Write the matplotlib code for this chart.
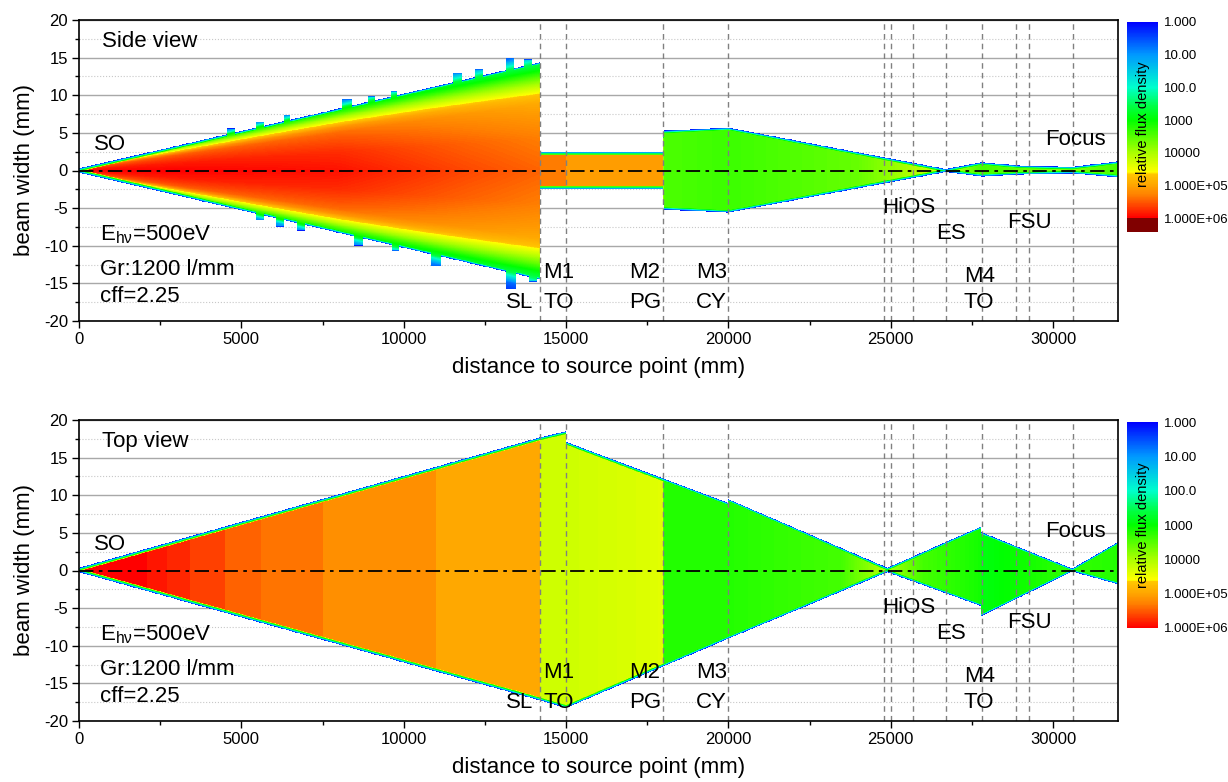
import numpy as np
import matplotlib
matplotlib.use('Agg')
import matplotlib.pyplot as plt
from matplotlib.colors import LinearSegmentedColormap, Normalize
from matplotlib.cm import ScalarMappable
from matplotlib.ticker import MultipleLocator

plt.rcParams['font.family'] = ['Liberation Sans', 'DejaVu Sans']
plt.rcParams['mathtext.fontset'] = 'custom'
plt.rcParams['mathtext.rm'] = 'Liberation Sans'
plt.rcParams['mathtext.it'] = 'Liberation Sans:italic'
plt.rcParams['axes.unicode_minus'] = False

#-------------------------------------------------------------------------------
# optical elements (distance to source, mm) -> dashed markers
elem_x = [14200, 15000, 18000, 20000, 24800, 25000, 25700, 26700, 27800, 28850, 29250, 30600]

cbar_labels = ['1.000', '10.00', '100.0', '1000', '10000', '1.000E+05', '1.000E+06']

# side view : beam envelope (mm)
side_x   = [0, 14200, 14201, 18000, 18001, 20000, 26700, 27800, 29000, 30600, 32000]
side_top = [0.3, 14.4, 2.5, 2.5, 5.3, 5.7, 0.2, 1.1, 0.65, 0.5, 1.2]
side_bot = [-0.3, -14.5, -2.5, -2.5, -5.2, -5.6, -0.2, -0.8, -0.55, -0.4, -0.9]

# side view : log10 of relative flux density on the axis
side_cx = [0, 3000, 8000, 12000, 14200, 14201, 15000, 15001, 18000, 18001, 20000, 24000, 26700, 27800, 30600, 32000]
side_cv = [6.0, 6.0, 5.9, 5.6, 5.45, 5.3, 5.3, 5.05, 5.05, 3.45, 3.35, 3.6, 4.3, 3.4, 3.8, 3.4]

# side view : where the broad transverse profile applies (before the slit)
side_sx = [0, 14200, 14201, 32000]
side_ss = [1, 1, 0, 0]

# side view : ray-trace "bumps" on the cone edge (x0, x1, edge mm)
side_bump_up = [(4550, 4800, 5.6), (5450, 5700, 6.5), (6300, 6500, 7.4), (8100, 8400, 9.5),
                (8900, 9100, 9.9), (9600, 9800, 10.6), (11500, 11800, 13.0),
                (12200, 12450, 13.5), (13150, 13400, 15.0), (13700, 13950, 14.8)]
side_bump_lo = [(5450, 5700, -6.6), (6050, 6300, -7.5), (6700, 6950, -8.0), (8450, 8750, -10.0),
                (9650, 9850, -10.7), (10850, 11150, -12.7), (13150, 13450, -15.8),
                (13850, 14100, -14.8)]

# top view : beam envelope (mm)
top_x   = [0, 14200, 15000, 15001, 20000, 20001, 24900, 27800, 27801, 30600, 32000]
top_up  = [0.3, 17.6, 18.4, 17.0, 8.9, 9.4, 0.3, 5.8, 5.0, 0.2, 3.7]
top_lo  = [-0.3, -17.3, -18.3, -18.3, -9.1, -9.1, -0.3, -4.8, -6.1, -0.2, -1.9]

# top view : log10 of relative flux density
top_cx = [0, 2100, 2101, 2700, 2701, 3400, 3401, 4500, 4501, 5600, 5601, 7500, 7501, 11000, 11001,
          14200, 14201, 15000, 17500, 18000, 18001, 20000, 23500, 24900, 24901, 26000, 27800,
          27801, 30600, 32000]
top_cv = [6.0, 6.0, 5.86, 5.86, 5.77, 5.77, 5.63, 5.63, 5.44, 5.44, 5.35, 5.35, 5.17, 5.17, 4.95,
          4.95, 4.25, 4.25, 4.35, 4.4, 3.2, 3.2, 3.4, 4.1, 4.0, 3.4, 3.1,
          2.9, 3.3, 3.2]
top_sx = [0, 32000]
top_ss = [0, 0]

# transverse profile (drop of log density vs normalised offset) and edge rim
prof_u    = [0, 0.3, 0.5, 0.62, 0.7, 0.78, 0.86, 0.93, 1.0, 1.1, 1.3]
prof_drop = [0, 0.15, 0.35, 0.5, 0.75, 1.3, 1.9, 2.5, 3.0, 4.8, 5.8]
rim_d = [0, 0.12, 0.25, 0.4, 0.6]
rim_v = [0.1, 1.2, 2.6, 3.8, 9.0]

#-------------------------------------------------------------------------------
cmap = LinearSegmentedColormap.from_list('flux', [
    (0.0, '#0000ff'), (1/6, '#0099ff'), (2/6, '#00ffcc'), (2.6/6, '#00ff40'),
    (0.5, '#00ff00'), (4/6, '#aaff00'), (4.6/6, '#ffff00'), (4.65/6, '#ffc800'),
    (5/6, '#ffa500'), (5.3/6, '#ff8000'), (1.0, '#ff0000')])
norm = Normalize(0, 6)

xs = np.linspace(0, 32000, 2600)
ys = np.linspace(-20, 20, 1000)


def beam_field(ex, etop, ebot, cx, cv, sx, ss, bumps_up=(), bumps_lo=()):
	Y = ys[:, None]
	top = np.interp(xs, ex, etop)
	bot = np.interp(xs, ex, ebot)
	otop = top.copy()
	obot = bot.copy()
	for x0, x1, h in bumps_up:
		sel = (xs >= x0) & (xs <= x1)
		otop[sel] = np.maximum(otop[sel], h)
	for x0, x1, h in bumps_lo:
		sel = (xs >= x0) & (xs <= x1)
		obot[sel] = np.minimum(obot[sel], h)
	mid = (top + bot) / 2
	half = (top - bot) / 2
	u = np.abs(Y - mid[None, :]) / half[None, :]
	core = np.interp(xs, cx, cv)[None, :]
	s = np.interp(xs, sx, ss)[None, :]
	v = core - s * np.interp(u, prof_u, prof_drop)
	d = np.minimum(otop[None, :] - Y, Y - obot[None, :])
	v = np.minimum(v, np.interp(d, rim_d, rim_v))
	v[(Y > otop[None, :]) | (Y < obot[None, :])] = np.nan
	return v


side_v = beam_field(side_x, side_top, side_bot, side_cx, side_cv, side_sx, side_ss,
                    side_bump_up, side_bump_lo)
top_v = beam_field(top_x, top_up, top_lo, top_cx, top_cv, top_sx, top_ss)

#-------------------------------------------------------------------------------
W, H = 1228, 782
fig = plt.figure(figsize=(W / 100, H / 100), dpi=100)
ax1 = fig.add_axes([79 / W, 1 - 321 / H, 1039 / W, 301 / H])
ax2 = fig.add_axes([79 / W, 1 - 721 / H, 1039 / W, 301 / H])

common = [('SL', 14000, -17.5, 'right'), ('M1', 14300, -13.6, 'left'), ('TO', 14300, -17.5, 'left'),
          ('M2', 16950, -13.6, 'left'), ('PG', 16950, -17.5, 'left'),
          ('M3', 19000, -13.6, 'left'), ('CY', 19000, -17.5, 'left'),
          ('HiOS', 24750, -4.9, 'left'), ('ES', 26400, -8.4, 'left'), ('FSU', 28600, -6.9, 'left'),
          ('M4', 27250, -14.1, 'left'), ('TO', 27250, -17.5, 'left'),
          ('SO', 450, 3.5, 'left'),
          (r'E$_{\mathrm{hν}}$=500eV', 650, -8.5, 'left'), ('Gr:1200 l/mm', 650, -13.1, 'left'),
          ('cff=2.25', 650, -16.8, 'left')]

for ax, field, title, focus_y in [(ax1, side_v, 'Side view', 4.1), (ax2, top_v, 'Top view', 5.2)]:
	ax.imshow(field, extent=[0, 32000, -20, 20], origin='lower', aspect='auto',
	          interpolation='nearest', cmap=cmap, norm=norm, zorder=1)
	ax.set_xlim(0, 32000)
	ax.set_ylim(-20, 20)
	ax.xaxis.set_major_locator(MultipleLocator(5000))
	ax.xaxis.set_minor_locator(MultipleLocator(2500))
	ax.yaxis.set_major_locator(MultipleLocator(5))
	ax.yaxis.set_minor_locator(MultipleLocator(2.5))
	ax.set_axisbelow(True)
	ax.yaxis.grid(True, which='major', color='#a8a8a8', lw=1)
	ax.yaxis.grid(True, which='minor', color='#c8c8c8', lw=0.8, ls=':')
	ax.tick_params(which='major', direction='out', length=5, width=1, labelsize=12, pad=3)
	ax.tick_params(which='minor', direction='out', length=3, width=1)
	for sp in ax.spines.values():
		sp.set_linewidth(1.2)
	for xe in elem_x:
		ax.axvline(xe, color='#808080', lw=1, ls=(0, (4, 3)), zorder=2)
	ax.axhline(0, color='black', lw=1.3, ls=(0, (8, 3, 2, 3)), zorder=3)
	ax.set_xlabel('distance to source point (mm)', fontsize=16, labelpad=7)
	ax.set_ylabel('beam width (mm)', fontsize=16, labelpad=6)
	ax.text(700, 17.1, title, fontsize=16, va='center', zorder=5)
	ax.text(29750, focus_y, 'Focus', fontsize=16, va='center', zorder=5)
	for s, tx, ty, ha in common:
		ax.text(tx, ty, s, fontsize=16, va='center', ha=ha, zorder=5)

# colour bars (log10 relative flux density, 1 at top, 1e6 at bottom)
cmap_ext = cmap.with_extremes(over='#800000')
for rect, cm_, ext, lab_y in [([1127 / W, 1 - 232 / H, 31 / W, 210 / H], cmap_ext, 'max', 124),
                              ([1127 / W, 1 - 628 / H, 31 / W, 206 / H], cmap, 'neither', 525)]:
	cax = fig.add_axes(rect)
	sm = ScalarMappable(norm=norm, cmap=cm_)
	if ext == 'max':
		cb = fig.colorbar(sm, cax=cax, extend='max', extendrect=True, extendfrac=0.0714)
	else:
		cb = fig.colorbar(sm, cax=cax)
	cb.ax.invert_yaxis()
	cb.set_ticks(range(7), labels=cbar_labels)
	cb.ax.tick_params(length=0, labelsize=9.5, pad=4)
	cb.outline.set_visible(False)
	fig.text(1143 / W, 1 - lab_y / H, 'relative flux density', rotation=90, fontsize=10.5,
	         ha='center', va='center')

fig.savefig('out.png', dpi=100)
